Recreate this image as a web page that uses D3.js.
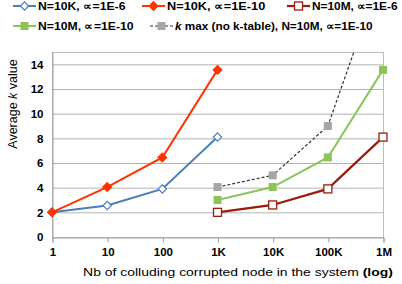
<!DOCTYPE html>
<html>
<head>
<meta charset="utf-8">
<script src="https://cdn.jsdelivr.net/npm/d3@7"></script>
<style>
  body { margin: 0; background: #fff; }
  text { font-family: "Liberation Sans", Arial, sans-serif; }
</style>
</head>
<body>
<div id="viz"></div>
<script>
// x positions (number of colluding nodes)
const xSmall = [1, 10, 100, 1000];
const xLarge = [1000, 10000, 100000, 1000000];
const xTicks = [1, 10, 100, 1000, 10000, 100000, 1000000];
const xTickLabels = ["1", "10", "100", "1K", "10K", "100K", "1M"];
const yTicks = [0, 2, 4, 6, 8, 10, 12, 14];

// series values
const n10kA6 = [2, 2.55, 3.9, 8.1];
const n10kA10 = [2, 4.05, 6.45, 13.55];
const n10mA6 = [2, 2.6, 3.9, 8.1];
const n10mA10 = [3, 4.05, 6.45, 13.55];
const kMax = [4.05, 5, 9, 21.7];

const series = [
  { name: "N=10K, ", xs: xSmall, ys: n10kA6, color: "#4a7ebb", marker: "diamond", fill: "#fff", dash: null, width: 2 },
  { name: "N=10K, ", xs: xSmall, ys: n10kA10, color: "#ff3300", marker: "diamond", fill: "#ff3300", dash: null, width: 2 },
  { name: "N=10M, ", xs: xLarge, ys: n10mA6, color: "#9b1c0c", marker: "square", fill: "#fff", dash: null, width: 2.2 },
  { name: "N=10M, ", xs: xLarge, ys: n10mA10, color: "#8dc45a", marker: "square", fill: "#8dc45a", dash: null, width: 2 },
  { name: "kmax", xs: xLarge, ys: kMax, color: "#333", marker: "square", fill: "#a6a6a6", mcolor: "#a6a6a6", dash: "3,2", width: 1.2 }
];
const alphaVals = ["1E-6", "1E-10", "1E-6", "1E-10", "1E-10"];

// stretch a text horizontally so it spans the wanted width
function fitWidth(t, tx, ty, target) {
  const w = t.node().getComputedTextLength();
  t.attr("transform", `translate(${tx},${ty}) scale(${target / w},1)`);
}

function createChart() {
  const width = 402, height = 284;
  const left = 52, right = 383, top = 52, bottom = 237;

  const svg = d3.select("#viz").append("svg")
    .attr("width", width).attr("height", height);

  const x = d3.scaleLog().domain([1, 1e6]).range([left, right]);
  const y = d3.scaleLinear().domain([0, 15]).range([bottom, top]);

  // gridlines
  svg.selectAll("line.grid").data(yTicks.filter(d => d > 0)).enter()
    .append("line").classed("grid", true)
    .attr("x1", left).attr("x2", right)
    .attr("y1", d => y(d) + 0.5).attr("y2", d => y(d) + 0.5)
    .attr("stroke", "#b3b3b3").attr("stroke-width", 1);

  // plot border
  svg.append("rect")
    .attr("x", left + 0.5).attr("y", top + 0.5)
    .attr("width", right - left).attr("height", bottom - top)
    .attr("fill", "none").attr("stroke", "#bdbdbd");

  // x axis
  const xAxis = d3.axisBottom(x).tickValues(xTicks)
    .tickFormat((d, i) => xTickLabels[i]).tickSize(5).tickPadding(5);
  const gx = svg.append("g").attr("transform", `translate(0.5,${bottom + 0.5})`).call(xAxis);
  gx.select(".domain").attr("stroke", "#a0a0a0");
  gx.selectAll(".tick line").attr("stroke", "#a0a0a0");
  gx.selectAll(".tick text").attr("font-size", 11.5).attr("font-weight", "bold")
    .attr("fill", "#000").style("font-family", "Liberation Sans, Arial, sans-serif");

  // y axis
  const yAxis = d3.axisLeft(y).tickValues(yTicks).tickSize(0).tickPadding(9);
  const gy = svg.append("g").attr("transform", `translate(${left + 0.5},0)`).call(yAxis);
  gy.select(".domain").attr("stroke", "#a0a0a0");
  gy.selectAll(".tick text").attr("font-size", 11.5).attr("font-weight", "bold")
    .attr("fill", "#000").style("font-family", "Liberation Sans, Arial, sans-serif");

  // axis titles
  const yt = svg.append("text")
    .attr("transform", `translate(17,104) rotate(-90)`)
    .attr("text-anchor", "middle").attr("font-size", 12.5).attr("fill", "#000");
  yt.append("tspan").text("Average ");
  yt.append("tspan").attr("font-style", "italic").text("k");
  yt.append("tspan").text(" value");

  const xt = svg.append("text")
    .attr("text-anchor", "middle").attr("font-size", 11.8).attr("fill", "#000");
  xt.append("tspan").text("Nb of colluding corrupted node in the system ");
  xt.append("tspan").attr("font-weight", "bold").text("(log)");
  fitWidth(xt, 238, 276, 310);

  // clip
  svg.append("clipPath").attr("id", "plotclip").append("rect")
    .attr("x", left - 10).attr("y", top).attr("width", right - left + 20).attr("height", bottom - top + 10);

  const line = d3.line().x(d => x(d[0])).y(d => y(d[1]));
  const plot = svg.append("g").attr("clip-path", "url(#plotclip)");

  series.forEach(s => {
    const pts = s.xs.map((v, i) => [v, s.ys[i]]);
    plot.append("path").datum(pts)
      .attr("d", line).attr("fill", "none")
      .attr("stroke", s.color).attr("stroke-width", s.width)
      .attr("stroke-dasharray", s.dash);
    drawMarkers(plot, pts.map(p => [x(p[0]), y(p[1])]), s);
  });

  // legend
  const legend = [
    { s: series[0], lx: 13, ly: 6, w: 87 },
    { s: series[1], lx: 142, ly: 6, w: 98 },
    { s: series[2], lx: 287, ly: 6, w: 86 },
    { s: series[3], lx: 13, ly: 26, w: 95 },
    { s: series[4], lx: 150, ly: 26, w: 198 }
  ];
  legend.forEach((l, i) => {
    const s = l.s;
    svg.append("line").attr("x1", l.lx).attr("x2", l.lx + 23)
      .attr("y1", l.ly).attr("y2", l.ly)
      .attr("stroke", s.color).attr("stroke-width", s.width)
      .attr("stroke-dasharray", s.dash);
    drawMarkers(svg, [[l.lx + 11.5, l.ly]], s);
    const t = svg.append("text")
      .attr("font-size", 11).attr("font-weight", "bold").attr("fill", "#000");
    if (s.name === "kmax") {
      t.append("tspan").attr("font-style", "italic").text("k");
      t.append("tspan").text(" max (no k-table), N=10M, ");
    } else {
      t.append("tspan").text(s.name);
    }
    t.append("tspan").text("\u221D=" + alphaVals[i]);
    fitWidth(t, l.lx + 25, l.ly + 4, l.w);
  });
}

function drawMarkers(g, pts, s) {
  const mc = s.mcolor || s.color;
  if (s.marker === "diamond") {
    const sym = d3.symbol().type(d3.symbolDiamond2).size(s.fill === "#fff" ? 44 : 48);
    g.selectAll(null).data(pts).enter().append("path")
      .attr("d", sym)
      .attr("transform", d => `translate(${d[0]},${d[1]})`)
      .attr("fill", s.fill).attr("stroke", mc).attr("stroke-width", 1.2);
  } else {
    const sz = 8;
    g.selectAll(null).data(pts).enter().append("rect")
      .attr("x", d => d[0] - sz / 2).attr("y", d => d[1] - sz / 2)
      .attr("width", sz).attr("height", sz)
      .attr("fill", s.fill).attr("stroke", mc).attr("stroke-width", s.fill === "#fff" ? 1.3 : 0);
  }
}

createChart();
</script>
</body>
</html>
